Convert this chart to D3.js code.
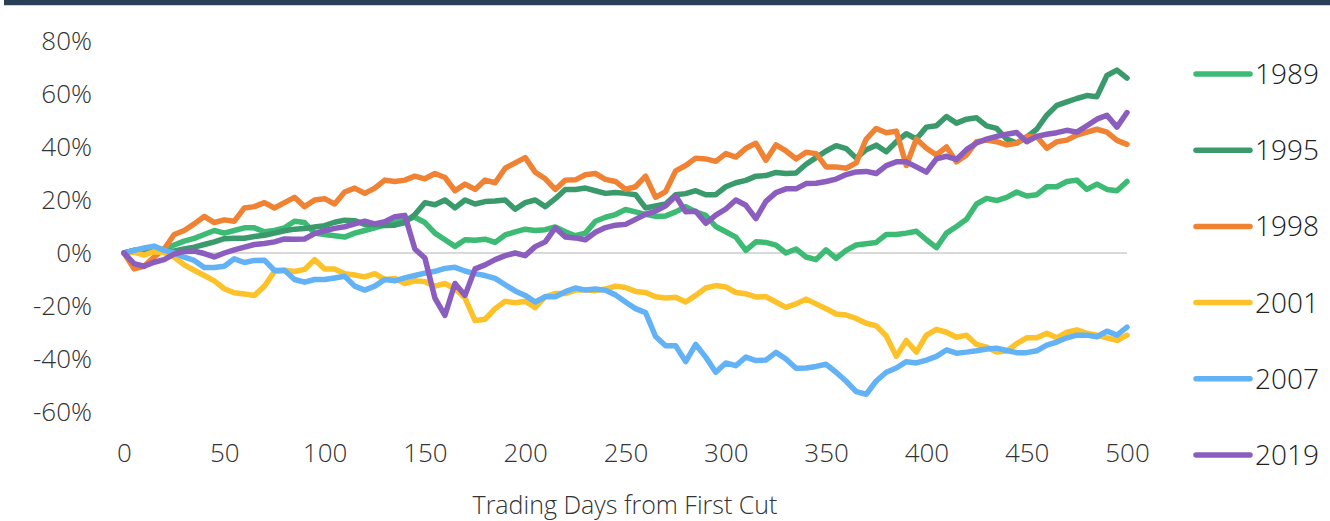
<!DOCTYPE html>
<html>
<head>
<meta charset="utf-8">
<script src="https://cdn.jsdelivr.net/npm/d3@7"></script>
<style>
  html, body { margin: 0; padding: 0; background: #fff; }
  svg text { font-family: "Open Sans", "Lato", sans-serif; font-weight: 300; fill: #333; }
  .axis .domain, .axis line { display: none; }
</style>
</head>
<body>
<div class="draw"></div>
<script>
// trading days from first cut, one reading every 5 days
var days = d3.range(0, 501, 5);

var years = ['1989', '1995', '1998', '2001', '2007', '2019'];
var colors = {
  '1989': '#3dba74',
  '1995': '#3a9a6c',
  '1998': '#f08234',
  '2001': '#fdc22a',
  '2007': '#63b2f6',
  '2019': '#8a5dbf',
};

// cumulative return in %
var s1989 = [0, 1, 0.5, 1, 1.5, 3, 4.5, 5.5, 7, 8.5, 7.5, 8.5, 9.5, 9.5, 8, 8.5, 9.5, 12, 11.5, 7.5,
  7, 6.5, 6, 7.5, 8.5, 9.5, 10.5, 11.5, 12.8, 13.5, 11.5, 7.5, 5, 2.5, 5, 4.8, 5.2, 4, 6.8, 8,
  9, 8.5, 8.8, 9.8, 8, 6.5, 7.5, 12, 13.5, 14.5, 16.4, 15.5, 14.6, 13.8, 14, 15.5, 17.5, 15.5, 14.2, 10,
  8, 6, 1, 4.2, 4, 3, 0, 1.5, -1.5, -2.5, 1.2, -2, 1, 3, 3.5, 4, 7, 7, 7.5, 8.2,
  5, 2, 7.5, 10, 12.7, 18.5, 20.6, 19.8, 21, 23, 21.5, 22, 25, 25, 27, 27.5, 24, 26, 24, 23.5,
  27];
var s1995 = [0, 1, 0.5, 0.5, 0.5, 0.8, 1.5, 2.2, 3.2, 4.2, 5.4, 5.6, 5.6, 6.2, 6.7, 7.5, 8.4, 9, 9.2, 9.8,
  10.3, 11.6, 12.4, 12.2, 10.8, 10.8, 10.4, 10.5, 11.5, 14.5, 19, 18.2, 20, 17, 20, 18.5, 19.4, 19.6, 20, 16.5,
  19, 20, 17.5, 20.5, 24, 24, 24.5, 23.5, 22.5, 22.8, 22.5, 22, 17, 17.8, 18.5, 22, 22.4, 23.5, 22, 22,
  25, 26.5, 27.4, 29, 29.2, 30.4, 30, 30.2, 33.5, 36, 38.5, 40.5, 39.4, 35.8, 39, 40.7, 38.2, 42, 45, 43,
  47.5, 48, 51.5, 49, 50.5, 51, 48, 47, 43, 41.5, 43.7, 46.7, 52, 55.7, 57, 58.3, 59.4, 59, 67, 69,
  66];
var s1998 = [0, -6, -5, -1.5, 1.5, 7, 8.5, 11, 13.8, 11.5, 12.5, 12, 17, 17.5, 19, 17, 19, 21, 17.5, 20,
  20.5, 18.5, 23, 24.5, 22.5, 24.5, 27.5, 27, 27.5, 29, 28, 30, 28.5, 23.5, 26, 24, 27.5, 26.5, 32, 34,
  36, 30.5, 28, 24, 27.5, 27.6, 29.5, 30, 27.8, 27, 24, 25, 29, 21, 23.2, 31, 33, 35.8, 35.5, 34.6,
  37.5, 36.2, 39.5, 41.4, 35, 40.8, 38.5, 35.5, 38, 37.5, 32.5, 32.5, 32, 34, 43, 47, 45.4, 46, 33, 43,
  39.5, 37, 40, 34.4, 37, 42, 42.6, 42, 40.8, 41.4, 44, 44, 39.5, 42, 42.6, 44.5, 45.6, 46.7, 45.6, 42.5,
  41];
var s2001 = [0, 0.3, -0.8, 0.5, 0.2, -1.5, -4.5, -6.5, -8.5, -10.5, -13.5, -15, -15.5, -16, -12.5, -7, -6.5, -7, -6.2, -2.5,
  -6, -6, -7.8, -8.3, -9, -7.8, -10, -9.6, -11.5, -10.5, -10.8, -12.5, -11.5, -13.5, -17, -25.5, -25, -21, -18.2, -18.8,
  -18.2, -20.6, -16.5, -15.3, -15.3, -14, -14, -14.2, -13.6, -12.5, -13, -14.5, -14.9, -16.5, -17, -16.7, -18.5, -16, -13.2, -12.3,
  -12.8, -14.9, -15.4, -16.6, -16.5, -18.5, -20.5, -19.2, -17.4, -19.2, -21, -23, -23.4, -24.7, -26.5, -27.5, -31.3, -39, -33, -37.4,
  -31, -28.8, -29.9, -31.8, -31, -34.5, -35.5, -37.4, -37, -34.2, -32, -32, -30.3, -32, -29.9, -29, -30.3, -31, -32, -33,
  -31];
var s2007 = [0, 1, 1.9, 2.6, 1, 0, -1.6, -2.8, -5.5, -5.5, -5, -2.2, -3.6, -2.8, -2.7, -6.6, -6.5, -10, -11, -10,
  -10, -9.4, -8.8, -12.5, -14, -12.5, -10, -10.5, -9.4, -8.5, -7.6, -6.9, -5.8, -5.4, -6.8, -7.8, -8.5, -9.6, -12, -14.3,
  -16, -18.5, -16.5, -16.5, -14.6, -13.2, -14, -13.6, -14.1, -15.8, -18.5, -21, -22.5, -31.5, -35, -35, -41, -34.5, -39.3, -45,
  -41.5, -42.5, -39.3, -40.6, -40.4, -37.5, -40, -43.5, -43.4, -42.8, -42, -45, -48.4, -52.3, -53.3, -48.3, -45, -43.4, -41, -41.5,
  -40.4, -39, -36.6, -37.8, -37.4, -36.9, -36.2, -35.9, -36.8, -37.6, -37.6, -36.9, -34.8, -33.6, -32, -31, -31, -31.6, -29.5, -31,
  -28];
var s2019 = [0, -4, -5, -3.5, -2.5, -0.4, 0.6, 0.7, -0.2, -1.5, 0, 1.2, 2.2, 3.2, 3.6, 4.2, 5.3, 5.2, 5.3, 7.3,
  8.4, 9.3, 9.9, 11, 12, 11, 11.8, 13.7, 14.2, 1.5, -1.9, -17, -23.5, -11.5, -16, -6, -4.5, -2.5, -1, 0,
  -1, 2.4, 4.2, 9.5, 6, 5.7, 5, 7.8, 9.6, 10.5, 10.8, 12.7, 14.6, 15.8, 17.8, 21.5, 15.6, 15.8, 11.2, 14.3,
  16.6, 20, 18, 13, 19.5, 22.8, 24.2, 24.2, 26.2, 26.3, 27, 27.9, 29.6, 30.6, 30.8, 30, 33, 34.4, 34.4, 32.5,
  30.5, 35.5, 36.5, 35.3, 39, 41.5, 43, 44, 44.8, 45.5, 42, 44, 44.8, 45.4, 46.3, 45.6, 48, 50.5, 52, 47.5,
  53];

var series = {
  '1989': s1989,
  '1995': s1995,
  '1998': s1998,
  '2001': s2001,
  '2007': s2007,
  '2019': s2019,
};

var xTicks = d3.range(0, 501, 50);
var yTicks = d3.range(-60, 81, 20);

var size = { w: 1330, h: 521 };

var svg = d3.select('.draw').append('svg')
  .attr('width', size.w)
  .attr('height', size.h);

// title banner, cut off at the top
svg.append('rect')
  .attr('x', 4).attr('y', 0)
  .attr('width', size.w - 4).attr('height', 5)
  .attr('fill', '#283f55');
svg.append('line')
  .attr('x1', 4).attr('x2', size.w)
  .attr('y1', 5.5).attr('y2', 5.5)
  .attr('stroke', '#d0d0d0');

var x = d3.scaleLinear().domain([0, 500]).range([124, 1127]);
var y = d3.scaleLinear().domain([-60, 80]).range([412, 41]);

// y axis
svg.append('g')
  .attr('class', 'axis axis-y')
  .attr('transform', 'translate(92,0)')
  .call(d3.axisLeft(y).tickValues(yTicks).tickSize(0).tickPadding(0)
    .tickFormat(function(d) { return d + '%'; }))
  .selectAll('text')
  .style('font-size', '26px');

// x axis
svg.append('g')
  .attr('class', 'axis axis-x')
  .attr('transform', 'translate(0,444)')
  .call(d3.axisBottom(x).tickValues(xTicks).tickSize(0).tickPadding(0))
  .selectAll('text')
  .style('font-size', '26px');

svg.append('text')
  .attr('x', 625)
  .attr('y', 514)
  .attr('text-anchor', 'middle')
  .style('font-size', '25px')
  .text('Trading Days from First Cut');

// zero line
svg.append('line')
  .attr('x1', x(0)).attr('x2', x(500))
  .attr('y1', y(0)).attr('y2', y(0))
  .attr('stroke', '#d9d9d9')
  .attr('stroke-width', 2);

var line = d3.line()
  .x(function(d, i) { return x(days[i]); })
  .y(function(d) { return y(d); });

svg.append('g').attr('class', 'series')
  .selectAll('path')
  .data(years)
  .enter().append('path')
  .attr('d', function(d) { return line(series[d]); })
  .attr('fill', 'none')
  .attr('stroke', function(d) { return colors[d]; })
  .attr('stroke-width', 5.5)
  .attr('stroke-linejoin', 'round')
  .attr('stroke-linecap', 'round');

// legend
var legend = svg.append('g').attr('class', 'legend')
  .selectAll('g')
  .data(years)
  .enter().append('g')
  .attr('transform', function(d, i) { return 'translate(1196,' + (74 + i*76.2) + ')'; });

legend.append('line')
  .attr('x1', 0).attr('x2', 54)
  .attr('stroke', function(d) { return colors[d]; })
  .attr('stroke-width', 5.5)
  .attr('stroke-linecap', 'round');

legend.append('text')
  .attr('x', 59)
  .attr('dy', '0.36em')
  .style('font-size', '28px')
  .style('fill', '#222')
  .text(function(d) { return d; });
</script>
</body>
</html>
